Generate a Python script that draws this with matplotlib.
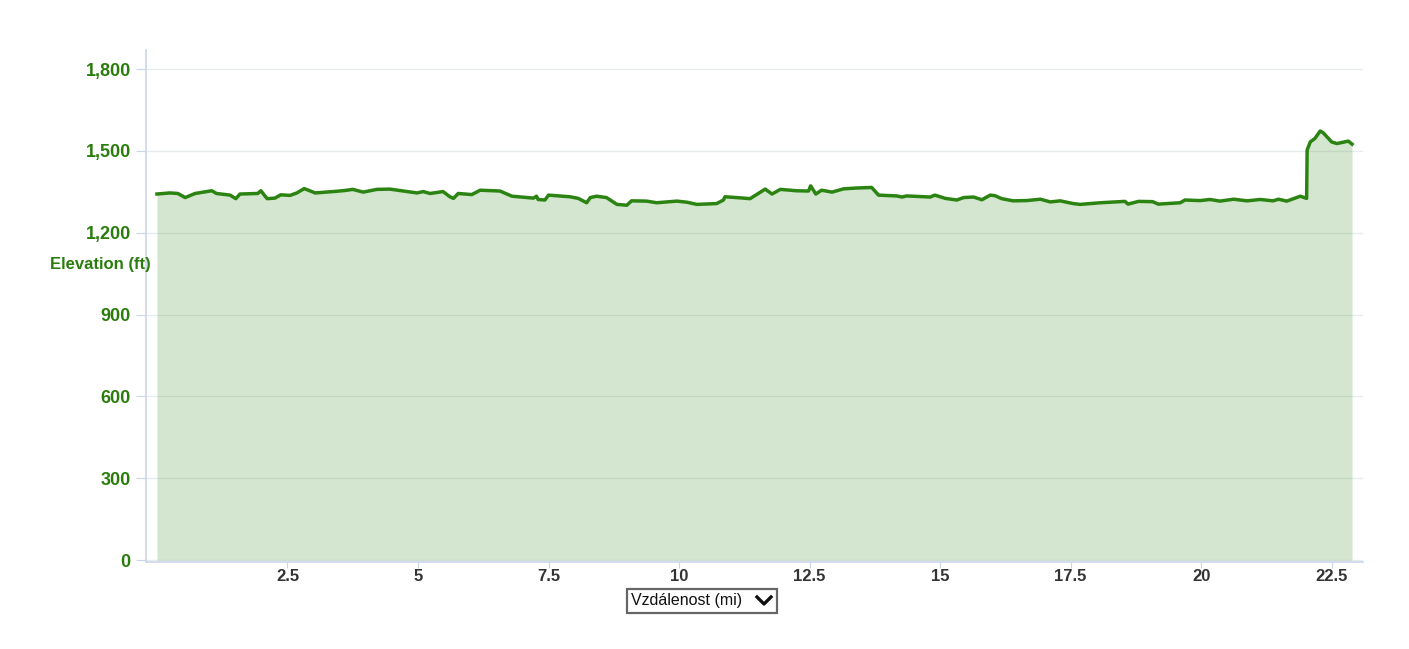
import matplotlib
matplotlib.use("Agg")
from matplotlib import pyplot as plt
from matplotlib.patches import Rectangle
from matplotlib.lines import Line2D

# distance (mi) and elevation (ft)
distance = [0.00, 0.25, 0.40, 0.54, 0.73, 1.05, 1.14, 1.40, 1.51, 1.59,
            1.93, 1.99, 2.11, 2.26, 2.37, 2.55, 2.68, 2.82, 3.03, 3.44,
            3.60, 3.75, 3.95, 4.21, 4.46, 4.98, 5.10, 5.23, 5.48, 5.61,
            5.68, 5.77, 6.03, 6.19, 6.57, 6.80, 7.21, 7.27, 7.30, 7.43,
            7.50, 7.91, 8.07, 8.23, 8.30, 8.42, 8.61, 8.81, 9.00, 9.09,
            9.38, 9.57, 9.96, 10.15, 10.34, 10.72, 10.85, 10.88, 11.17, 11.36,
            11.65, 11.78, 11.94, 12.25, 12.48, 12.52, 12.62, 12.73, 12.93, 13.15,
            13.40, 13.69, 13.82, 14.17, 14.27, 14.36, 14.81, 14.90, 15.10, 15.32,
            15.45, 15.64, 15.80, 15.96, 16.05, 16.18, 16.40, 16.66, 16.92, 17.11,
            17.30, 17.55, 17.68, 18.07, 18.54, 18.60, 18.80, 19.07, 19.18, 19.60,
            19.69, 19.98, 20.17, 20.36, 20.62, 20.88, 21.13, 21.38, 21.48, 21.64,
            21.90, 22.02, 22.03, 22.09, 22.18, 22.28, 22.34, 22.50, 22.60, 22.82,
            22.89]
elevation = [1342, 1346, 1344, 1329, 1344, 1354, 1344, 1338, 1325, 1342,
             1344, 1354, 1325, 1327, 1339, 1337, 1346, 1362, 1346, 1352,
             1355, 1359, 1349, 1359, 1360, 1346, 1351, 1344, 1351, 1332,
             1326, 1344, 1340, 1356, 1353, 1334, 1327, 1334, 1322, 1320,
             1338, 1332, 1326, 1310, 1329, 1334, 1329, 1304, 1301, 1317,
             1316, 1310, 1316, 1312, 1304, 1307, 1320, 1332, 1328, 1325,
             1360, 1342, 1359, 1354, 1353, 1372, 1342, 1356, 1349, 1361,
             1364, 1366, 1338, 1335, 1331, 1335, 1331, 1338, 1326, 1320,
             1329, 1331, 1321, 1338, 1336, 1325, 1317, 1318, 1323, 1313,
             1317, 1307, 1304, 1310, 1315, 1305, 1315, 1314, 1305, 1310,
             1320, 1318, 1322, 1316, 1323, 1317, 1322, 1317, 1323, 1316,
             1334, 1326, 1503, 1533, 1546, 1573, 1566, 1533, 1527, 1536,
             1525]

x_ticks = [2.5, 5, 7.5, 10, 12.5, 15, 17.5, 20, 22.5]
x_tick_labels = ["2.5", "5", "7.5", "10", "12.5", "15", "17.5", "20", "22.5"]
y_ticks = [0, 300, 600, 900, 1200, 1500, 1800]
y_tick_labels = ["0", "300", "600", "900", "1,200", "1,500", "1,800"]

GREEN = "#2b8412"
LABEL_GREEN = "#2a7d0c"
AXIS_COL = "#ccd6eb"

plt.rcParams["font.family"] = ["Liberation Sans", "DejaVu Sans"]

fig = plt.figure(figsize=(14.09, 6.49), dpi=100)
ax = fig.add_axes([146 / 1409, 1 - 562 / 649, (1363 - 146) / 1409, (562 - 50) / 649])

ax.fill_between(distance, elevation, 0, color=GREEN, alpha=0.2, lw=0)
ax.plot(distance, elevation, color=GREEN, lw=2.5, solid_joinstyle="round")

ax.set_xlim(-0.21, 23.10)
ax.set_ylim(-7, 1870)

ax.set_axisbelow(True)
ax.grid(True, axis="y", color="#e8ebee", lw=1)
ax.grid(False, axis="x")

for side in ["top", "right"]:
    ax.spines[side].set_visible(False)
ax.spines["left"].set_color(AXIS_COL)
ax.spines["bottom"].set_color(AXIS_COL)
ax.spines["left"].set_linewidth(1.2)
ax.spines["bottom"].set_linewidth(1.2)

ax.set_xticks(x_ticks)
ax.set_xticklabels(x_tick_labels, fontsize=12, fontweight="bold", color="#333333")
ax.set_yticks(y_ticks)
ax.set_yticklabels(y_tick_labels, fontsize=13, fontweight="bold", color=LABEL_GREEN)
ax.tick_params(axis="x", length=4, color=AXIS_COL, pad=1)
ax.tick_params(axis="y", length=7, color=AXIS_COL, pad=4)

fig.text(100 / 1409, 1 - 264 / 649, "Elevation (ft)", ha="center", va="center",
         fontsize=12, fontweight="bold", color=LABEL_GREEN)

# distance selector box under the axis
fig.patches.append(Rectangle((627 / 1409, 1 - 613 / 649), 150 / 1409, 24 / 649,
                             transform=fig.transFigure, fill=False,
                             edgecolor="#666666", lw=1.6))
fig.text(631 / 1409, 1 - 601 / 649, "Vzdálenost (mi)", ha="left", va="center",
         fontsize=11.5, color="#111111")
fig.lines.append(Line2D([757 / 1409, 764 / 1409, 771 / 1409],
                        [1 - 597 / 649, 1 - 604 / 649, 1 - 597 / 649],
                        transform=fig.transFigure, color="#111111", lw=2.4))

fig.savefig("out.png", dpi=100)
